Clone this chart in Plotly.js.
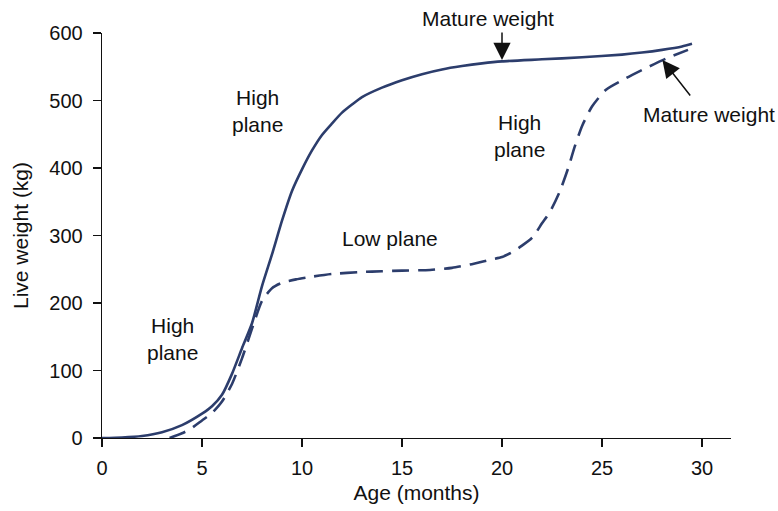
<!DOCTYPE html>
<html>
<head>
<meta charset="utf-8">
<script src="https://cdn.plot.ly/plotly-3.0.1.min.js"></script>
<style>html,body{margin:0;padding:0;background:#fff;}#chart{width:778px;height:511px;}</style>
</head>
<body>
<div id="chart"></div>
<script>
// Continuous high plane of nutrition (solid)
const monthsHigh = [0, 1, 2, 3, 4, 5, 5.5, 6, 6.5, 7, 7.5, 8, 8.5, 9, 9.5, 10, 10.5, 11, 11.5, 12, 12.5, 13, 14, 15, 16, 17, 18, 19, 20, 22, 24, 26, 27, 28, 29, 29.5];
const weightHigh = [0, 0.8, 3, 8.5, 19, 36, 47, 64, 95, 133, 170, 225, 272, 322, 366, 398, 426, 449, 466, 482, 494, 505, 519, 530, 539, 546, 551, 555, 558, 561, 564, 568, 571, 575, 580, 584];
// High / low / high plane (dashed)
const monthsMixed = [3.38, 4, 4.4, 5, 5.5, 6, 6.5, 7, 7.5, 8, 8.5, 9, 9.7, 10.5, 11.5, 13, 14, 15, 16.4, 17.5, 18.4, 19.4, 20, 20.55, 21, 21.55, 22, 22.4, 22.9, 23.3, 23.64, 24, 24.5, 25.2, 26.2, 27.2, 28.2, 29.3];
const weightMixed = [0, 7, 13, 26, 37, 54, 80, 118, 162, 203, 222, 230, 235, 239, 243, 246, 247, 248, 249, 252, 257, 264, 268, 276, 285, 298, 318, 335, 366, 399, 432, 462, 491, 516, 533, 548, 562, 575];

const xTicks = [0, 5, 10, 15, 20, 25, 30];
const yTicks = [0, 100, 200, 300, 400, 500, 600];
const xTitle = 'Age (months)';
const yTitle = 'Live weight (kg)';
const planeHigh = 'High<br>plane';
const planeLow = 'Low plane';
const matureLabel = 'Mature weight';

const lineColor = '#2c3d6c';
const fontFam = '"Liberation Sans", Arial, Helvetica, sans-serif';
const fs = 20;
const fsText = 21;

const traces = [
  {x: monthsHigh, y: weightHigh, type: 'scatter', mode: 'lines',
   line: {color: lineColor, width: 2.6, shape: 'spline', smoothing: 0.6}, hoverinfo: 'skip'},
  {x: monthsMixed, y: weightMixed, type: 'scatter', mode: 'lines',
   line: {color: lineColor, width: 2.6, dash: '17px,9px', shape: 'spline', smoothing: 0.6}, hoverinfo: 'skip'}
];

const txt = (x, y, text, yref) => ({x, y, xref: 'x', yref: yref || 'y', text, showarrow: false,
  font: {family: fontFam, size: fsText, color: '#111'}, xanchor: 'center', yanchor: 'middle'});

const layout = {
  width: 778, height: 511,
  margin: {l: 102, r: 47, t: 33, b: 73, pad: 0},
  paper_bgcolor: '#fff', plot_bgcolor: '#fff',
  showlegend: false,
  font: {family: fontFam, size: fs, color: '#111'},
  xaxis: {
    range: [0, 31.45], tickvals: xTicks, ticktext: xTicks.map(String),
    showline: true, linecolor: '#111', linewidth: 1.3,
    ticks: 'outside', ticklen: 8, tickwidth: 1.3, tickcolor: '#111',
    showgrid: false, zeroline: false, ticklabelstandoff: 4,
    tickfont: {family: fontFam, size: fs, color: '#111'},
    title: {text: xTitle, font: {family: fontFam, size: fsText, color: '#111'}, standoff: 7}
  },
  yaxis: {
    range: [0, 600], tickvals: yTicks, ticktext: yTicks.map(String),
    showline: true, linecolor: '#111', linewidth: 1.3,
    ticks: 'outside', ticklen: 8, tickwidth: 1.3, tickcolor: '#111',
    showgrid: false, zeroline: false, ticklabelstandoff: 6,
    tickfont: {family: fontFam, size: fs, color: '#111'},
    title: {text: yTitle, font: {family: fontFam, size: fsText, color: '#111'}, standoff: 15}
  },
  annotations: [
    txt(7.75, 485, planeHigh),
    txt(3.53, 147, planeHigh),
    txt(14.38, 295, planeLow),
    txt(20.88, 448, planeHigh),
    txt(19.3, 1.035, matureLabel, 'paper'),
    txt(30.34, 479, matureLabel),
    {x: 20.0, y: 560, xref: 'x', yref: 'y', text: '', showarrow: true,
     ax: 0, ay: -29, arrowhead: 2, arrowsize: 2.3, arrowwidth: 1.5, arrowcolor: '#111', standoff: 0},
    {x: 28.02, y: 560, xref: 'x', yref: 'y', text: '', showarrow: true,
     ax: 29, ay: 37, arrowhead: 2, arrowsize: 2.3, arrowwidth: 1.5, arrowcolor: '#111', standoff: 0}
  ]
};

Plotly.newPlot('chart', traces, layout, {staticPlot: true, displayModeBar: false});
</script>
</body>
</html>
